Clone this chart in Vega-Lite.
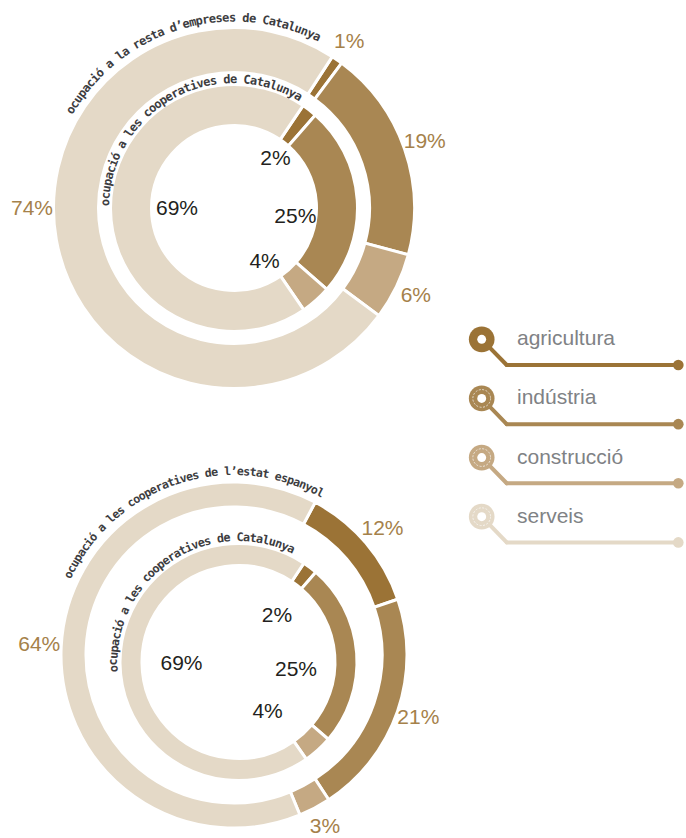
{
  "$schema": "https://vega.github.io/schema/vega-lite/v6.json",
  "padding": 0,
  "bounds": "flush",
  "background": "#ffffff",
  "config": {"view": {"stroke": null}, "font": "Liberation Sans"},
  "datasets": {
    "rings": [
      {"chart": "top", "ring": "outer", "cat": "agricultura", "n": 1, "share": 0.01},
      {"chart": "top", "ring": "outer", "cat": "indústria", "n": 2, "share": 0.19},
      {"chart": "top", "ring": "outer", "cat": "construcció", "n": 3, "share": 0.06},
      {"chart": "top", "ring": "outer", "cat": "serveis", "n": 4, "share": 0.74},
      {"chart": "top", "ring": "inner", "cat": "agricultura", "n": 1, "share": 0.02},
      {"chart": "top", "ring": "inner", "cat": "indústria", "n": 2, "share": 0.25},
      {"chart": "top", "ring": "inner", "cat": "construcció", "n": 3, "share": 0.04},
      {"chart": "top", "ring": "inner", "cat": "serveis", "n": 4, "share": 0.69},
      {"chart": "bottom", "ring": "outer", "cat": "agricultura", "n": 1, "share": 0.12},
      {"chart": "bottom", "ring": "outer", "cat": "indústria", "n": 2, "share": 0.21},
      {"chart": "bottom", "ring": "outer", "cat": "construcció", "n": 3, "share": 0.03},
      {"chart": "bottom", "ring": "outer", "cat": "serveis", "n": 4, "share": 0.64},
      {"chart": "bottom", "ring": "inner", "cat": "agricultura", "n": 1, "share": 0.02},
      {"chart": "bottom", "ring": "inner", "cat": "indústria", "n": 2, "share": 0.25},
      {"chart": "bottom", "ring": "inner", "cat": "construcció", "n": 3, "share": 0.04},
      {"chart": "bottom", "ring": "inner", "cat": "serveis", "n": 4, "share": 0.69}
    ],
    "titles": [
      {"chart": "top", "ring": "outer", "chars": ["o","c","u","p","a","c","i","ó"," ","a"," ","l","a"," ","r","e","s","t","a"," ","d","’","e","m","p","r","e","s","e","s"," ","d","e"," ","C","a","t","a","l","u","n","y","a"]},
      {"chart": "top", "ring": "inner", "chars": ["o","c","u","p","a","c","i","ó"," ","a"," ","l","e","s"," ","c","o","o","p","e","r","a","t","i","v","e","s"," ","d","e"," ","C","a","t","a","l","u","n","y","a"]},
      {"chart": "bottom", "ring": "outer", "chars": ["o","c","u","p","a","c","i","ó"," ","a"," ","l","e","s"," ","c","o","o","p","e","r","a","t","i","v","e","s"," ","d","e"," ","l","’","e","s","t","a","t"," ","e","s","p","a","n","y","o","l"]},
      {"chart": "bottom", "ring": "inner", "chars": ["o","c","u","p","a","c","i","ó"," ","a"," ","l","e","s"," ","c","o","o","p","e","r","a","t","i","v","e","s"," ","d","e"," ","C","a","t","a","l","u","n","y","a"]}
    ],
    "cats": [
      {"cat": "agricultura"},
      {"cat": "indústria"},
      {"cat": "construcció"},
      {"cat": "serveis"}
    ]
  },
  "columns": 2,
  "spacing": {"row": 56, "column": 0},
  "concat": [
    {
      "width": 468,
      "height": 416,
      "resolve": {"scale": {"theta": "independent", "angle": "independent"}},
      "layer": [
        {
          "data": {"name": "rings"},
          "transform": [{"filter": "datum.chart == 'top' && datum.ring == 'outer'"}],
          "mark": {"type": "arc", "radius": 180.5, "radius2": 135.5, "stroke": "#ffffff", "strokeWidth": 3},
          "encoding": {
            "theta": {"field": "share", "type": "quantitative", "stack": true, "scale": {"domain": [0, 1], "range": [0.576, 6.8592]}},
            "order": {"field": "n", "type": "quantitative"},
            "color": {"field": "cat", "type": "nominal", "legend": null, "scale": {"domain": ["agricultura", "indústria", "construcció", "serveis"], "range": ["#9b7336", "#a98753", "#c5a983", "#e4d9c7"]}}
          }
        },
        {
          "data": {"name": "rings"},
          "transform": [{"filter": "datum.chart == 'top' && datum.ring == 'inner'"}],
          "mark": {"type": "arc", "radius": 123.5, "radius2": 82.5, "stroke": "#ffffff", "strokeWidth": 3},
          "encoding": {
            "theta": {"field": "share", "type": "quantitative", "stack": true, "scale": {"domain": [0, 1], "range": [0.5934, 6.8766]}},
            "order": {"field": "n", "type": "quantitative"},
            "color": {"field": "cat", "type": "nominal", "legend": null}
          }
        },
        {
          "data": {"name": "rings"},
          "transform": [{"filter": "datum.chart == 'top' && datum.ring == 'outer'"}],
          "mark": {"type": "text", "radius": 202, "fontSize": 21, "fill": "#a5814a", "align": "center", "baseline": "middle"},
          "encoding": {
            "theta": {"field": "share", "type": "quantitative", "stack": true, "scale": {"domain": [0, 1], "range": [0.576, 6.8592]}},
            "order": {"field": "n", "type": "quantitative"},
            "detail": {"field": "cat", "type": "nominal"},
            "text": {"condition": {"test": "datum.cat != 'serveis'", "field": "share", "type": "quantitative", "format": ".0%"}, "value": ""}
          }
        },
        {
          "data": {"name": "rings"},
          "transform": [{"filter": "datum.chart == 'top' && datum.ring == 'outer'"}],
          "mark": {"type": "text", "radius": 202, "thetaOffset": 0.1745, "fontSize": 21, "fill": "#a5814a", "align": "center", "baseline": "middle"},
          "encoding": {
            "theta": {"field": "share", "type": "quantitative", "stack": true, "scale": {"domain": [0, 1], "range": [0.576, 6.8592]}},
            "order": {"field": "n", "type": "quantitative"},
            "detail": {"field": "cat", "type": "nominal"},
            "text": {"condition": {"test": "datum.cat == 'serveis'", "field": "share", "type": "quantitative", "format": ".0%"}, "value": ""}
          }
        },
        {
          "data": {"name": "rings"},
          "transform": [{"filter": "datum.chart == 'top' && datum.ring == 'inner'"}],
          "mark": {"type": "text", "radius": 64, "thetaOffset": 0.05, "fontSize": 21, "fill": "#231f20", "align": "center", "baseline": "middle"},
          "encoding": {
            "theta": {"field": "share", "type": "quantitative", "stack": true, "scale": {"domain": [0, 1], "range": [0.5934, 6.8766]}},
            "order": {"field": "n", "type": "quantitative"},
            "detail": {"field": "cat", "type": "nominal"},
            "text": {"condition": {"test": "datum.cat == 'agricultura'", "field": "share", "type": "quantitative", "format": ".0%"}, "value": ""}
          }
        },
        {
          "data": {"name": "rings"},
          "transform": [{"filter": "datum.chart == 'top' && datum.ring == 'inner'"}],
          "mark": {"type": "text", "radius": 57, "thetaOffset": -0.02, "fontSize": 21, "fill": "#231f20", "align": "center", "baseline": "middle"},
          "encoding": {
            "theta": {"field": "share", "type": "quantitative", "stack": true, "scale": {"domain": [0, 1], "range": [0.5934, 6.8766]}},
            "order": {"field": "n", "type": "quantitative"},
            "detail": {"field": "cat", "type": "nominal"},
            "text": {"condition": {"test": "datum.cat == 'serveis'", "field": "share", "type": "quantitative", "format": ".0%"}, "value": ""}
          }
        },
        {
          "data": {"name": "rings"},
          "transform": [{"filter": "datum.chart == 'top' && datum.ring == 'inner'"}],
          "mark": {"type": "text", "radius": 62, "thetaOffset": 0.21, "fontSize": 21, "fill": "#231f20", "align": "center", "baseline": "middle"},
          "encoding": {
            "theta": {"field": "share", "type": "quantitative", "stack": true, "scale": {"domain": [0, 1], "range": [0.5934, 6.8766]}},
            "order": {"field": "n", "type": "quantitative"},
            "detail": {"field": "cat", "type": "nominal"},
            "text": {"condition": {"test": "datum.cat == 'indústria' || datum.cat == 'construcció'", "field": "share", "type": "quantitative", "format": ".0%"}, "value": ""}
          }
        },
        {
          "data": {"name": "titles"},
          "transform": [
            {"filter": "datum.chart == 'top' && datum.ring == 'outer'"},
            {"flatten": ["chars"], "as": ["ch"]},
            {"window": [{"op": "row_number", "as": "idx"}]}
          ],
          "mark": {"type": "text", "radius": 190.5, "font": "DejaVu Sans Mono", "fontSize": 12, "fontWeight": "bold", "fill": "#3d3d3f", "align": "center", "baseline": "middle"},
          "encoding": {
            "theta": {"field": "idx", "type": "quantitative", "stack": null, "scale": {"domain": [1, 43], "range": [-1.0297, 0.4503]}},
            "angle": {"field": "idx", "type": "quantitative", "scale": {"domain": [1, 43], "range": [-59, 25.8]}},
            "text": {"field": "ch", "type": "nominal"}
          }
        },
        {
          "data": {"name": "titles"},
          "transform": [
            {"filter": "datum.chart == 'top' && datum.ring == 'inner'"},
            {"flatten": ["chars"], "as": ["ch"]},
            {"window": [{"op": "row_number", "as": "idx"}]}
          ],
          "mark": {"type": "text", "radius": 129, "font": "DejaVu Sans Mono", "fontSize": 12, "fontWeight": "bold", "fill": "#3d3d3f", "align": "center", "baseline": "middle"},
          "encoding": {
            "theta": {"field": "idx", "type": "quantitative", "stack": null, "scale": {"domain": [1, 40], "range": [-1.5272, 0.5219]}},
            "angle": {"field": "idx", "type": "quantitative", "scale": {"domain": [1, 40], "range": [-87.5, 29.9]}},
            "text": {"field": "ch", "type": "nominal"}
          }
        }
      ]
    },
    {
      "width": 218,
      "height": 416,
      "data": {"name": "cats"},
      "encoding": {
        "y": {"field": "cat", "type": "nominal", "sort": null, "axis": null, "scale": {"type": "point", "range": [339.3, 516.7], "padding": 0}},
        "color": {"field": "cat", "type": "nominal", "legend": null, "scale": {"domain": ["agricultura", "indústria", "construcció", "serveis"], "range": ["#9b7336", "#a98753", "#c5a983", "#e4d9c7"]}}
      },
      "layer": [
        {
          "mark": {"type": "rule", "strokeWidth": 4, "strokeCap": "round", "y2Offset": 25.7},
          "encoding": {
            "x": {"datum": 13.7, "type": "quantitative", "axis": null, "scale": {"domain": [0, 218], "nice": false, "zero": false}},
            "x2": {"datum": 38.7},
            "y2": {"field": "cat"}
          }
        },
        {
          "mark": {"type": "rule", "strokeWidth": 4, "strokeCap": "round", "yOffset": 25.7},
          "encoding": {
            "x": {"datum": 38.7, "type": "quantitative"},
            "x2": {"datum": 210.3}
          }
        },
        {
          "mark": {"type": "point", "shape": "circle", "filled": true, "opacity": 1, "size": 113, "yOffset": 25.7},
          "encoding": {"x": {"datum": 210.3, "type": "quantitative"}}
        },
        {
          "mark": {"type": "point", "shape": "circle", "filled": true, "opacity": 1, "size": 660},
          "encoding": {"x": {"datum": 13.7, "type": "quantitative"}}
        },
        {
          "transform": [{"filter": "datum.cat != 'agricultura'"}],
          "mark": {"type": "point", "shape": "circle", "filled": false, "opacity": 0.7, "size": 314, "strokeWidth": 1, "strokeDash": [2, 1.5]},
          "encoding": {"x": {"datum": 13.7, "type": "quantitative"}, "color": {"value": "#ffffff"}}
        },
        {
          "mark": {"type": "point", "shape": "circle", "filled": true, "opacity": 1, "size": 79},
          "encoding": {"x": {"datum": 13.7, "type": "quantitative"}, "color": {"value": "#ffffff"}}
        },
        {
          "mark": {"type": "text", "align": "left", "baseline": "middle", "fontSize": 21},
          "encoding": {"x": {"datum": 49, "type": "quantitative"}, "text": {"field": "cat", "type": "nominal"}, "color": {"value": "#808285"}}
        }
      ]
    },
    {
      "width": 468,
      "height": 366,
      "resolve": {"scale": {"theta": "independent", "angle": "independent"}},
      "layer": [
        {
          "data": {"name": "rings"},
          "transform": [{"filter": "datum.chart == 'bottom' && datum.ring == 'outer'"}],
          "mark": {"type": "arc", "radius": 173, "radius2": 148, "stroke": "#ffffff", "strokeWidth": 3},
          "encoding": {
            "theta": {"field": "share", "type": "quantitative", "stack": true, "scale": {"domain": [0, 1], "range": [0.4887, 6.7719]}},
            "order": {"field": "n", "type": "quantitative"},
            "color": {"field": "cat", "type": "nominal", "legend": null, "scale": {"domain": ["agricultura", "indústria", "construcció", "serveis"], "range": ["#9b7336", "#a98753", "#c5a983", "#e4d9c7"]}}
          }
        },
        {
          "data": {"name": "rings"},
          "transform": [{"filter": "datum.chart == 'bottom' && datum.ring == 'inner'"}],
          "mark": {"type": "arc", "radius": 118.5, "radius2": 96.5, "stroke": "#ffffff", "strokeWidth": 3, "xOffset": 4.5, "yOffset": 7},
          "encoding": {
            "theta": {"field": "share", "type": "quantitative", "stack": true, "scale": {"domain": [0, 1], "range": [0.5847, 6.8679]}},
            "order": {"field": "n", "type": "quantitative"},
            "color": {"field": "cat", "type": "nominal", "legend": null}
          }
        },
        {
          "data": {"name": "rings"},
          "transform": [{"filter": "datum.chart == 'bottom' && datum.ring == 'outer'"}],
          "mark": {"type": "text", "radius": 195, "fontSize": 21, "fill": "#a5814a", "align": "center", "baseline": "middle"},
          "encoding": {
            "theta": {"field": "share", "type": "quantitative", "stack": true, "scale": {"domain": [0, 1], "range": [0.4887, 6.7719]}},
            "order": {"field": "n", "type": "quantitative"},
            "detail": {"field": "cat", "type": "nominal"},
            "text": {"field": "share", "type": "quantitative", "format": ".0%"}
          }
        },
        {
          "data": {"name": "rings"},
          "transform": [{"filter": "datum.chart == 'bottom' && datum.ring == 'inner'"}],
          "mark": {"type": "text", "radius": 60, "thetaOffset": 0.05, "fontSize": 21, "fill": "#231f20", "align": "center", "baseline": "middle", "xOffset": 4.5, "yOffset": 7},
          "encoding": {
            "theta": {"field": "share", "type": "quantitative", "stack": true, "scale": {"domain": [0, 1], "range": [0.5847, 6.8679]}},
            "order": {"field": "n", "type": "quantitative"},
            "detail": {"field": "cat", "type": "nominal"},
            "text": {"condition": {"test": "datum.cat == 'agricultura'", "field": "share", "type": "quantitative", "format": ".0%"}, "value": ""}
          }
        },
        {
          "data": {"name": "rings"},
          "transform": [{"filter": "datum.chart == 'bottom' && datum.ring == 'inner'"}],
          "mark": {"type": "text", "radius": 57, "thetaOffset": -0.02, "fontSize": 21, "fill": "#231f20", "align": "center", "baseline": "middle", "xOffset": 4.5, "yOffset": 7},
          "encoding": {
            "theta": {"field": "share", "type": "quantitative", "stack": true, "scale": {"domain": [0, 1], "range": [0.5847, 6.8679]}},
            "order": {"field": "n", "type": "quantitative"},
            "detail": {"field": "cat", "type": "nominal"},
            "text": {"condition": {"test": "datum.cat == 'serveis'", "field": "share", "type": "quantitative", "format": ".0%"}, "value": ""}
          }
        },
        {
          "data": {"name": "rings"},
          "transform": [{"filter": "datum.chart == 'bottom' && datum.ring == 'inner'"}],
          "mark": {"type": "text", "radius": 58, "thetaOffset": 0.21, "fontSize": 21, "fill": "#231f20", "align": "center", "baseline": "middle", "xOffset": 4.5, "yOffset": 7},
          "encoding": {
            "theta": {"field": "share", "type": "quantitative", "stack": true, "scale": {"domain": [0, 1], "range": [0.5847, 6.8679]}},
            "order": {"field": "n", "type": "quantitative"},
            "detail": {"field": "cat", "type": "nominal"},
            "text": {"condition": {"test": "datum.cat == 'indústria' || datum.cat == 'construcció'", "field": "share", "type": "quantitative", "format": ".0%"}, "value": ""}
          }
        },
        {
          "data": {"name": "titles"},
          "transform": [
            {"filter": "datum.chart == 'bottom' && datum.ring == 'outer'"},
            {"flatten": ["chars"], "as": ["ch"]},
            {"window": [{"op": "row_number", "as": "idx"}]}
          ],
          "mark": {"type": "text", "radius": 183, "font": "DejaVu Sans Mono", "fontSize": 11.6, "fontWeight": "bold", "fill": "#3d3d3f", "align": "center", "baseline": "middle"},
          "encoding": {
            "theta": {"field": "idx", "type": "quantitative", "stack": null, "scale": {"domain": [1, 47], "range": [-1.1188, 0.4887]}},
            "angle": {"field": "idx", "type": "quantitative", "scale": {"domain": [1, 47], "range": [-64.1, 28]}},
            "text": {"field": "ch", "type": "nominal"}
          }
        },
        {
          "data": {"name": "titles"},
          "transform": [
            {"filter": "datum.chart == 'bottom' && datum.ring == 'inner'"},
            {"flatten": ["chars"], "as": ["ch"]},
            {"window": [{"op": "row_number", "as": "idx"}]}
          ],
          "mark": {"type": "text", "radius": 125, "font": "DejaVu Sans Mono", "fontSize": 11.8, "fontWeight": "bold", "fill": "#3d3d3f", "align": "center", "baseline": "middle", "xOffset": 4.5, "yOffset": 7},
          "encoding": {
            "theta": {"field": "idx", "type": "quantitative", "stack": null, "scale": {"domain": [1, 40], "range": [-1.6232, 0.4346]}},
            "angle": {"field": "idx", "type": "quantitative", "scale": {"domain": [1, 40], "range": [-93, 24.9]}},
            "text": {"field": "ch", "type": "nominal"}
          }
        }
      ]
    }
  ]
}
